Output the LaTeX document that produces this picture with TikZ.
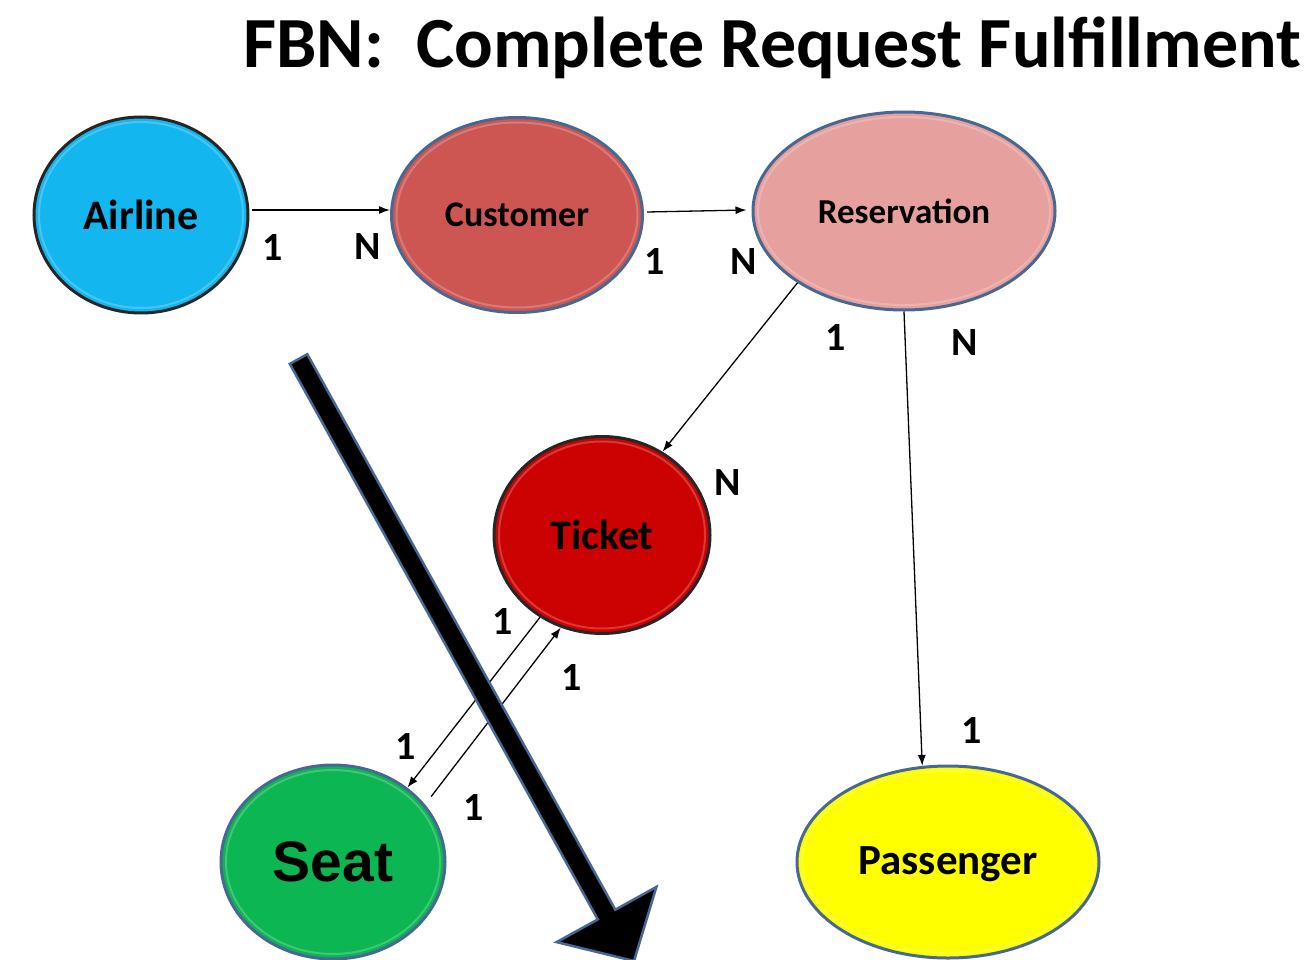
\documentclass[tikz,border=0pt]{standalone}
\usepackage{fontspec}
\setmainfont{Carlito}
\newfontfamily\arialfont{Liberation Sans}
\usetikzlibrary{shapes.geometric,arrows.meta,calc}
\definecolor{edgeblue}{RGB}{72,104,148}
\definecolor{airlinecol}{RGB}{20,182,240}
\definecolor{customercol}{RGB}{205,86,83}
\definecolor{reservcol}{RGB}{230,160,158}
\definecolor{ticketcol}{RGB}{204,2,2}
\definecolor{seatcol}{RGB}{12,182,82}
\definecolor{passcol}{RGB}{255,255,0}
\tikzset{
  entity/.style={ellipse, inner sep=0pt, line width=3pt,
    path picture={
      \path let \p1=(path picture bounding box.north east),
                \p2=(path picture bounding box.center) in
        (path picture bounding box.center) node[coordinate] (pc) {}
        [draw=white, draw opacity=0.22, line width=2pt]
        (pc) ellipse [x radius={\x1-\x2-5pt}, y radius={\y1-\y2-5pt}];
    }},
  blueedge/.style={draw=edgeblue},
  darkedge/.style={draw=black!85},
  conn/.style={line width=1.3pt, -{Latex[length=11pt,width=8pt]}},
  card/.style={font=\bfseries\fontsize{40}{48}\selectfont, inner sep=0pt},
}
\begin{document}
\begin{tikzpicture}[x=1pt,y=-1pt]
\useasboundingbox (0,0) rectangle (1305,960);
\clip (0,0) rectangle (1305,960);

% title
\node[anchor=base west, inner sep=0pt, font=\bfseries\fontsize{72}{80}\selectfont] (title) at (243,68) {FBN:\ \ Complete Request Fulfillment};

% entities
\node[entity, darkedge, fill=airlinecol, minimum width=214pt, minimum height=196pt,
      font=\bfseries\fontsize{42}{50}\selectfont] (airline) at (141,215) {Airline};
\node[entity, blueedge, fill=customercol, minimum width=251pt, minimum height=195pt,
      font=\bfseries\fontsize{36}{44}\selectfont] (customer) at (517,215) {Customer};
\node[entity, blueedge, fill=reservcol, minimum width=302pt, minimum height=198pt,
      font=\bfseries\fontsize{35}{42}\selectfont] (reservation) at (904,211) {Reservation};
\node[entity, darkedge, fill=ticketcol, minimum width=216pt, minimum height=197pt,
      font=\bfseries\fontsize{42}{50}\selectfont] (ticket) at (602,535) {Ticket};
\node[entity, blueedge, fill=seatcol, minimum width=224pt, minimum height=194pt,
      font=\arialfont\bfseries\fontsize{57}{64}\selectfont] (seat) at (333,862) {Seat};
\node[entity, blueedge, fill=passcol, minimum width=302pt, minimum height=192pt,
      text height=28pt, text depth=4pt,
      font=\bfseries\fontsize{43}{50}\selectfont] (passenger) at (948,862) {Passenger};

% connectors
\draw[conn] ([xshift=2pt,yshift=5pt]airline.east) -- ([yshift=5pt]customer.west);
\draw[conn] ([xshift=3pt,yshift=3pt]customer.east) -- ([xshift=-5pt,yshift=1pt]reservation.west);
\draw[conn] (reservation.214) -- (ticket.54);
\draw[conn] (reservation.south) -- (passenger.105);
\draw[conn] (ticket.233) -- (seat.45);
\draw[conn, shorten <=10pt] (seat.32) -- (ticket.246);

% cardinalities
\node[card] (c1) at (273,248) {1};
\node[card] (c2) at (368,247) {N};
\node[card] (c3) at (655,262) {1};
\node[card] (c4) at (744,262) {N};
\node[card] (c5) at (836,338) {1};
\node[card] (c6) at (965,343) {N};
\node[card] (c7) at (728,483) {N};
\node[card] (c8) at (503,622) {1};
\node[card] (c9) at (572,678) {1};
\node[card] (c10) at (406,747) {1};
\node[card] (c11) at (474,808) {1};
\node[card] (c12) at (972,731) {1};

% big arrow
\filldraw[fill=black, draw=edgeblue, line width=2.5pt, line join=miter]
  (289.8,363.9) -- (307.3,354.2) -- (615.3,909.7) -- (656.4,886.9) -- (634,961)
  -- (556.6,942.1) -- (597.8,919.4) -- cycle;
\end{tikzpicture}
\end{document}
